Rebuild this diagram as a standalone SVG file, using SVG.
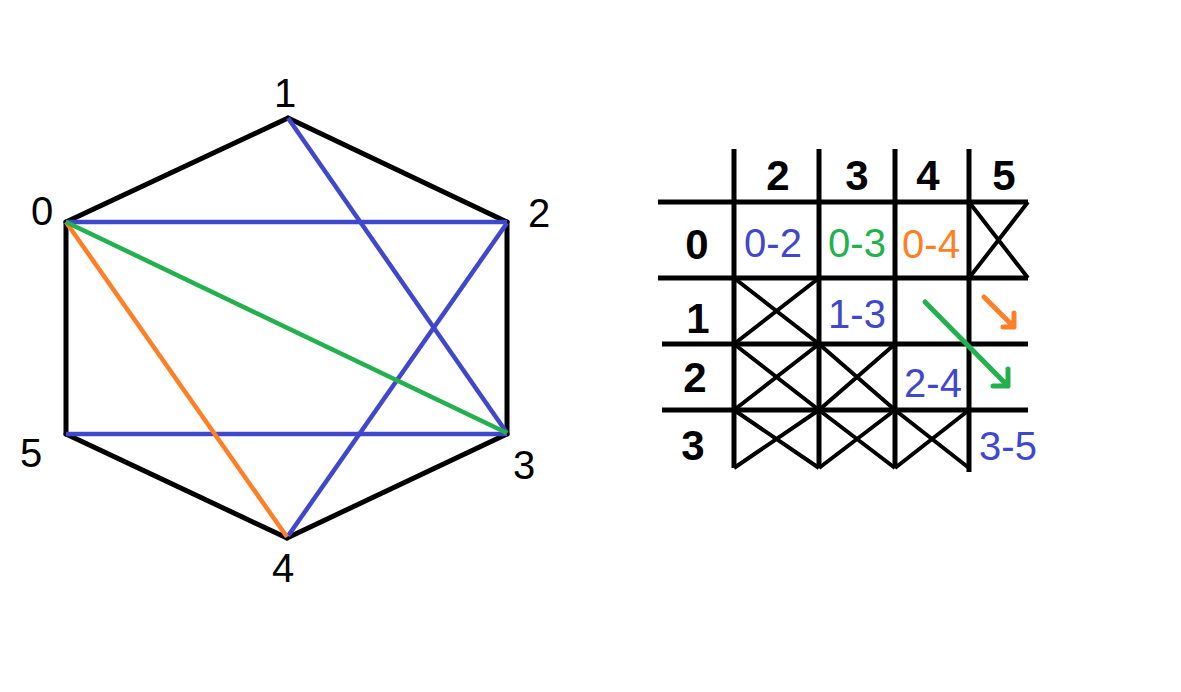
<svg xmlns="http://www.w3.org/2000/svg" width="1181" height="692" viewBox="0 0 1181 692">
<style>
.lbl{font-family:"Liberation Sans",Arial,sans-serif;font-size:40px;text-anchor:middle;fill:#000}
.hd{font-family:"Liberation Sans",Arial,sans-serif;font-size:42px;font-weight:bold;text-anchor:middle;fill:#000}
.cell{font-family:"Liberation Sans",Arial,sans-serif;font-size:40px;text-anchor:middle}
.edge{stroke:#000;stroke-width:5;stroke-linecap:round;fill:none}
.grid{stroke:#000;stroke-width:5;fill:none}
.x{stroke:#000;stroke-width:4;fill:none}
.blue{stroke:#3f48cc;stroke-width:4.5;fill:none}
.green{stroke:#22b14c;stroke-width:4.5;fill:none}
.orange{stroke:#ff7f27;stroke-width:4.5;fill:none}
.arr{stroke-width:5;stroke-linecap:round;stroke-linejoin:round;fill:none}
</style>
<rect width="1181" height="692" fill="#fff"/>
<g id="connectors">
  <line class="edge" x1="66" y1="222" x2="288" y2="118"/>
  <line class="edge" x1="288" y1="118" x2="507" y2="222"/>
  <line class="edge" x1="507" y1="222" x2="507" y2="434"/>
  <line class="edge" x1="507" y1="434" x2="287" y2="538"/>
  <line class="edge" x1="287" y1="538" x2="66" y2="434"/>
  <line class="edge" x1="66" y1="434" x2="66" y2="222"/>
  <line class="blue" x1="66" y1="222" x2="507" y2="222"/>
  <line class="blue" x1="66" y1="434" x2="507" y2="434"/>
  <line class="blue" x1="288" y1="118" x2="507" y2="433"/>
  <line class="blue" x1="507" y1="223" x2="288" y2="536"/>
  <line class="orange" x1="66" y1="222" x2="287" y2="537"/>
  <line class="green" x1="66" y1="222" x2="507" y2="433"/>
</g>
<g id="node-0"><text class="lbl" x="42" y="225">0</text></g>
<g id="node-1"><text class="lbl" x="285" y="107">1</text></g>
<g id="node-2"><text class="lbl" x="539" y="227">2</text></g>
<g id="node-3"><text class="lbl" x="524" y="479">3</text></g>
<g id="node-4"><text class="lbl" x="283" y="582">4</text></g>
<g id="node-5"><text class="lbl" x="31" y="467">5</text></g>
<g id="table">
  <line class="grid" x1="734" y1="149" x2="734" y2="468"/>
  <line class="grid" x1="819" y1="149" x2="819" y2="468"/>
  <line class="grid" x1="895" y1="149" x2="895" y2="468"/>
  <line class="grid" x1="969" y1="149" x2="969" y2="472"/>
  <line class="grid" x1="658" y1="202" x2="1028" y2="202"/>
  <line class="grid" x1="658" y1="278" x2="1028" y2="278"/>
  <line class="grid" x1="662" y1="344" x2="1028" y2="344"/>
  <line class="grid" x1="662" y1="410" x2="1028" y2="410"/>
  <path class="x" d="M969 202L1028 278M1028 202L969 278"/>
  <path class="x" d="M734 278L819 344M819 278L734 344"/>
  <path class="x" d="M734 344L819 410M819 344L734 410"/>
  <path class="x" d="M819 344L895 410M895 344L819 410"/>
  <path class="x" d="M734 410L819 468M819 410L734 468"/>
  <path class="x" d="M819 410L895 468M895 410L819 468"/>
  <path class="x" d="M895 410L969 468M969 410L895 468"/>
  <text class="hd" x="778" y="190">2</text>
  <text class="hd" x="857" y="190">3</text>
  <text class="hd" x="928" y="190">4</text>
  <text class="hd" x="1004" y="190">5</text>
  <text class="hd" x="697" y="259">0</text>
  <text class="hd" x="698" y="333">1</text>
  <text class="hd" x="695" y="392">2</text>
  <text class="hd" x="693" y="460">3</text>
  <text class="cell" x="773" y="257" fill="#3f48cc">0-2</text>
  <text class="cell" x="857" y="257" fill="#22b14c">0-3</text>
  <text class="cell" x="931" y="258" fill="#ff7f27">0-4</text>
  <text class="cell" x="857" y="328" fill="#3f48cc">1-3</text>
  <text class="cell" x="933" y="397" fill="#3f48cc">2-4</text>
  <text class="cell" x="1008" y="460" fill="#3f48cc">3-5</text>
  <path class="arr" stroke="#ff7f27" d="M984 297L1014 327M1014 313L1014 327L1003 327"/>
  <path class="arr" stroke="#22b14c" d="M925 302L1008 386M1008 369L1008 386L993 386"/>
</g>
</svg>
